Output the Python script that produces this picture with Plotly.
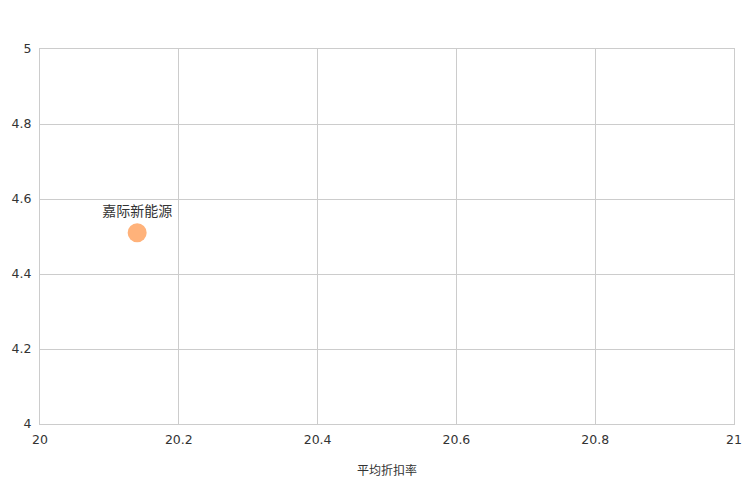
import plotly.graph_objects as go

names = ["嘉际新能源"]
discount = [20.14]
values = [4.51]

x_ticks = [20, 20.2, 20.4, 20.6, 20.8, 21]
x_tick_labels = ["20", "20.2", "20.4", "20.6", "20.8", "21"]
y_ticks = [4, 4.2, 4.4, 4.6, 4.8, 5]
y_tick_labels = ["4", "4.2", "4.4", "4.6", "4.8", "5"]

fig = go.Figure()
fig.add_trace(go.Scatter(
    x=discount, y=values, mode="markers+text", text=names,
    textposition="top center",
    textfont=dict(family="Noto Sans CJK SC", size=14, color="#333333"),
    marker=dict(size=19, color="#FFB27A", line=dict(width=0)),
    hoverinfo="skip",
))

grid = "#cccccc"
fig.update_layout(
    width=744, height=496,
    margin=dict(l=40, r=10, t=49, b=72, autoexpand=False),
    paper_bgcolor="white", plot_bgcolor="white",
    showlegend=False,
    font=dict(family="DejaVu Sans", size=12.5, color="#333333"),
    xaxis=dict(range=[20, 21], tickvals=x_ticks, ticktext=x_tick_labels,
               showgrid=True, gridcolor=grid, gridwidth=1, zeroline=False,
               showline=True, linecolor=grid, mirror=True, automargin=False,
               ticks="outside", ticklen=4, tickcolor="rgba(0,0,0,0)",
               title=dict(text="平均折扣率", font=dict(family="Noto Sans CJK SC", size=12, color="#333333"), standoff=20)),
    yaxis=dict(range=[4, 5], tickvals=y_ticks, ticktext=y_tick_labels,
               showgrid=True, gridcolor=grid, gridwidth=1, zeroline=False,
               showline=True, linecolor=grid, mirror=True, automargin=False,
               ticks="outside", ticklen=5, tickcolor="rgba(0,0,0,0)"),
)

fig.write_html("out.html", config={"displayModeBar": False},
               post_script="document.body.style.margin='0';document.body.style.overflow='hidden';")
